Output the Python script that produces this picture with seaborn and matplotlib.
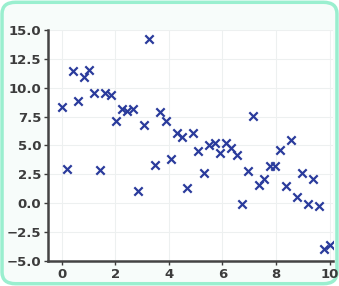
import matplotlib
matplotlib.use("Agg")
import matplotlib.pyplot as plt
import seaborn as sns
import pandas as pd
from matplotlib.patches import FancyBboxPatch

x_values = [0.00, 0.20, 0.41, 0.61, 0.82, 1.02, 1.22, 1.43, 1.63, 1.84,
            2.04, 2.24, 2.45, 2.65, 2.86, 3.06, 3.27, 3.47, 3.67, 3.88,
            4.08, 4.29, 4.49, 4.69, 4.90, 5.10, 5.31, 5.51, 5.71, 5.92,
            6.12, 6.33, 6.53, 6.73, 6.94, 7.14, 7.35, 7.55, 7.76, 7.96,
            8.16, 8.37, 8.57, 8.78, 8.98, 9.18, 9.39, 9.59, 9.80, 10.00]
y_values = [8.29, 2.96, 11.41, 8.81, 10.95, 11.53, 9.51, 2.87, 9.51, 9.39,
            7.14, 8.12, 8.01, 8.12, 1.02, 6.80, 14.22, 3.27, 7.88, 7.12,
            3.83, 6.08, 5.70, 1.28, 6.10, 4.48, 2.64, 5.06, 5.18, 4.37,
            5.18, 4.78, 4.20, -0.07, 2.81, 7.52, 1.60, 2.12, 3.25, 3.25,
            4.61, 1.49, 5.47, 0.50, 2.58, -0.07, 2.06, -0.24, -3.97, -3.59]
x_ticks = [0, 2, 4, 6, 8, 10]
y_ticks = [-5.0, -2.5, 0.0, 2.5, 5.0, 7.5, 10.0, 12.5, 15.0]

df = pd.DataFrame({"x": x_values, "y": y_values})

sns.set_theme(style="whitegrid")
plt.rcParams['font.family'] = ['DejaVu Sans']

fig = plt.figure(figsize=(3.39, 2.86), dpi=100)
fig.patch.set_facecolor("white")

# rounded mint frame
frame = FancyBboxPatch((0.006, 0.008), 0.988, 0.984,
                       boxstyle="round,pad=0,rounding_size=0.04",
                       transform=fig.transFigure, facecolor="#f7fcfa",
                       edgecolor="#9aefcf", linewidth=2.5, zorder=-10)
fig.patches.append(frame)

ax = fig.add_axes([0.142, 0.088, 0.840, 0.807])
ax.set_zorder(5)
ax.set_facecolor("white")

sns.scatterplot(data=df, x="x", y="y", ax=ax, marker="x", color="#2a3b9c",
                s=36, linewidth=1.6, legend=False, zorder=3)

ax.set_xlim(-0.5, 10.12)
ax.set_ylim(-5.0, 15.0)
ax.set_xticks(x_ticks)
ax.set_yticks(y_ticks)
ax.set_xticklabels([str(t) for t in x_ticks])
ax.set_yticklabels([f"{t:.1f}".replace("-", "\u2212") for t in y_ticks])
ax.set_xlabel("")
ax.set_ylabel("")

ax.grid(True, color="#edf0f0", linewidth=0.8)
for side in ["top", "right"]:
    ax.spines[side].set_visible(False)
for side in ["left", "bottom"]:
    ax.spines[side].set_visible(True)
    ax.spines[side].set_color("#444444")
    ax.spines[side].set_linewidth(1.8)

ax.tick_params(axis="both", which="major", labelsize=9.5, colors="#3c3c3c",
               length=3, width=1, direction="out", pad=2,
               left=True, bottom=True)
for lbl in ax.get_xticklabels() + ax.get_yticklabels():
    lbl.set_fontweight("semibold")

fig.savefig("out.png", dpi=100)
